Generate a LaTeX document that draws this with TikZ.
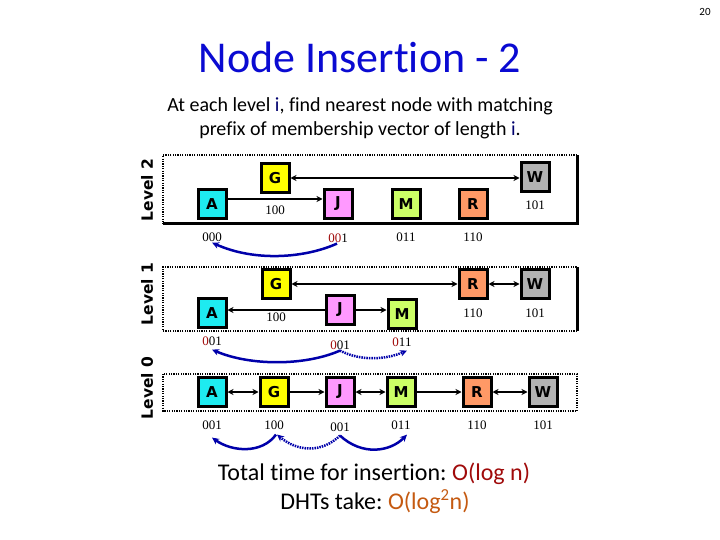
\documentclass[tikz,border=0pt]{standalone}
\usepackage{fontspec}
\setmainfont{Carlito}[Ligatures=NoCommon]
\newfontfamily\lblfont{Liberation Serif}
\newfontfamily\boxfont{DejaVu Sans}
\usetikzlibrary{arrows.meta}
\definecolor{cA}{RGB}{30,235,240}
\definecolor{cG}{RGB}{255,255,0}
\definecolor{cJ}{RGB}{255,153,255}
\definecolor{cM}{RGB}{204,255,102}
\definecolor{cR}{RGB}{255,153,102}
\definecolor{cW}{RGB}{178,178,178}
\definecolor{sblue}{RGB}{0,0,170}
\definecolor{tblue}{RGB}{10,10,210}
\definecolor{navy}{RGB}{0,0,110}
\definecolor{dred}{RGB}{160,10,10}
\definecolor{orng}{RGB}{197,90,17}
\frenchspacing
\begin{document}
\begin{tikzpicture}[x=1pt,y=-1pt,
  box/.style={draw=black, line width=3pt, minimum width=28pt, minimum height=29pt, inner sep=0pt,
    font=\boxfont\bfseries\fontsize{15}{15}\selectfont},
  lbl/.style={font=\lblfont\fontsize{13}{13}\selectfont, inner sep=1pt},
  lvl/.style={rotate=90, font=\boxfont\bfseries\fontsize{15.5}{16}\selectfont, inner sep=0pt},
  link/.style={line width=1.8pt, -{Stealth[length=6pt,width=6pt]}},
  blink/.style={line width=1.8pt, {Stealth[length=6pt,width=6pt]}-{Stealth[length=6pt,width=6pt]}},
  dotedge/.style={line width=2.5pt, dash pattern=on 1.2pt off 1.2pt},
  solidedge/.style={line width=3pt},
  search/.style={draw=sblue, line width=2.5pt, -{Stealth[length=7pt,width=6.5pt]}},
  dsearch/.style={search, dash pattern=on 1.5pt off 1pt}
]
\useasboundingbox (0,0) rectangle (720,540);
\fill[white] (0,0) rectangle (720,540);

% texts
\node[font=\fontsize{11}{11}\selectfont] (pg) at (705,12) {20};
\node[font=\fontsize{44}{48}\selectfont, text=tblue] (title) at (360,57) {Node Insertion - 2};
\node[font=\fontsize{20}{24}\selectfont, align=center] (sub) at (360,118)
  {At each level \textcolor{navy}{i}, find nearest node with matching\\prefix of membership vector of length \textcolor{navy}{i}.};

% level frames
\draw[dotedge] (577,155) -- (163,155) -- (163,224);
\draw[solidedge] (163,224) -- (577,224) -- (577,155);
\draw[dotedge] (577,331) -- (163,331) -- (163,267) -- (577,267);
\draw[solidedge] (577,267) -- (577,331);
\draw[dotedge] (163,374) rectangle (577,411);

\node[lvl] (lv2) at (147,190) {Level 2};
\node[lvl] (lv1) at (147,294) {Level 1};
\node[lvl] (lv0) at (147,388) {Level 0};

% Level 2
\node[box, fill=cA] (A2) at (212,204) {A};
\node[box, fill=cG] (G2) at (275,178) {G};
\node[box, fill=cJ] (J2) at (338,204) {J};
\node[box, fill=cM] (M2) at (406,204) {M};
\node[box, fill=cR] (R2) at (473,204) {R};
\node[box, fill=cW] (W2) at (535,177) {W};
\node[lbl] (g2v) at (275,210) {100};
\node[lbl] (w2v) at (535,205) {101};
\node[lbl] (a2v) at (212,237) {000};
\node[lbl] (j2v) at (338,238) {\textcolor{dred}{00}1};
\node[lbl] (m2v) at (406,237) {011};
\node[lbl] (r2v) at (473,237) {110};
\draw[link, line width=1.3pt] ([yshift=5pt]A2.east) -- ([yshift=5pt]A2.east -| J2.west);
\draw[blink] (G2.east) -- (G2.east -| W2.west);
\draw[search] ([xshift=-1pt]j2v.south) .. controls (305,258) and (255,262) .. (a2v.south);

% Level 1
\node[box, fill=cA] (A1) at (212,313) {A};
\node[box, fill=cG] (G1) at (276,284) {G};
\node[box, fill=cJ] (J1) at (340,310) {J};
\node[box, fill=cM] (M1) at (402,314) {M};
\node[box, fill=cR] (R1) at (473,284) {R};
\node[box, fill=cW] (W1) at (535,284) {W};
\node[lbl] (g1v) at (276,317) {100};
\node[lbl] (r1v) at (473,313) {110};
\node[lbl] (w1v) at (535,313) {101};
\node[lbl] (a1v) at (212,341) {\textcolor{dred}{0}01};
\node[lbl] (j1v) at (340,345) {\textcolor{dred}{0}01};
\node[lbl] (m1v) at (402,342) {\textcolor{dred}{0}11};
\draw[link] (J1.west) -- (J1.west -| A1.east);
\draw[link] (J1.east) -- (J1.east -| M1.west);
\draw[blink] (G1.east) -- (G1.east -| R1.west);
\draw[blink] (R1.east) -- (R1.east -| W1.west);
\draw[search] (j1v.south) .. controls (305,366) and (250,366) .. ([yshift=-3pt]a1v.south);
\draw[dsearch] (j1v.south) .. controls (360,361) and (385,360) .. ([xshift=5pt,yshift=-3pt]m1v.south);

% Level 0
\node[box, fill=cA] (A0) at (212,392) {A};
\node[box, fill=cG] (G0) at (274,392) {G};
\node[box, fill=cJ] (J0) at (340,392) {J};
\node[box, fill=cM] (M0) at (401,392) {M};
\node[box, fill=cR] (R0) at (477,392) {R};
\node[box, fill=cW] (W0) at (543,392) {W};
\node[lbl] (a0v) at (212,425) {001};
\node[lbl] (g0v) at (274,425) {100};
\node[lbl] (j0v) at (340,427) {001};
\node[lbl] (m0v) at (401,425) {011};
\node[lbl] (r0v) at (477,425) {110};
\node[lbl] (w0v) at (543,425) {101};
\draw[blink] (A0.east) -- (G0.west);
\draw[link] (G0.east) -- (J0.west);
\draw[blink] (J0.east) -- (M0.west);
\draw[link, line width=1.2pt] (M0.east) -- (R0.west);
\draw[blink] (R0.east) -- (W0.west);
\draw[search] ([xshift=2pt,yshift=-4pt]g0v.south) .. controls (262,454) and (232,452) .. ([yshift=-7pt]a0v.south);
\draw[dsearch] ([yshift=-3pt]j0v.south) .. controls (322,453) and (298,452) .. ([xshift=3pt,yshift=-4pt]g0v.south);
\draw[search] ([yshift=-3pt]j0v.south) .. controls (362,456) and (390,452) .. ([xshift=6pt,yshift=-4pt]m0v.south);

% bottom
\node[font=\fontsize{24}{28}\selectfont] (tot) at (374,474) {Total time for insertion: \textcolor{dred}{O(log n)}};
\node[font=\fontsize{24}{28}\selectfont] (dht) at (375,502) {DHTs take: \textcolor{orng}{O(log\textsuperscript{2}n)}};
\end{tikzpicture}
\end{document}
